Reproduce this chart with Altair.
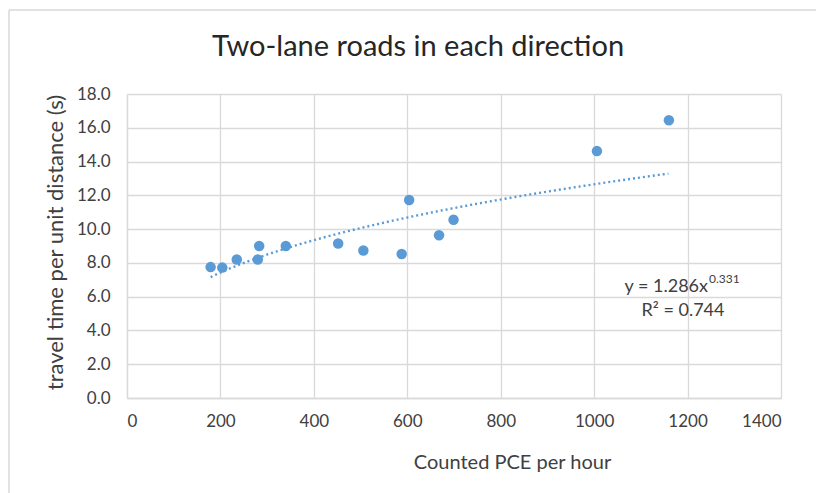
import altair as alt
import pandas as pd

# Observed travel time vs. counted PCE flow (two-lane roads in each direction)
pce_per_hour = [179, 204, 235, 280, 283, 340, 452, 506, 588, 604, 668, 699, 1006, 1160]
travel_time = [7.75, 7.72, 8.2, 8.2, 9.0, 9.0, 9.15, 8.73, 8.53, 11.72, 9.64, 10.55, 14.62, 16.45]

# Power trend line y = a * x^b
trend_a = 1.286
trend_b = 0.331
trend_x_start = 179
trend_x_end = 1160

chart_title = "Two-lane roads in each direction"
eq_main = "y = 1.286x"
eq_power = "0.331"
eq_r2 = "R² = 0.744"

FONT = "Lato"
BLUE = "#5B9BD5"
GRID = "#d9d9d9"
TEXT = "#404040"

points = pd.DataFrame({"pce": pce_per_hour, "time": travel_time})

x_scale = alt.Scale(domain=[0, 1400], nice=False)
y_scale = alt.Scale(domain=[0, 18], nice=False)

x_axis = alt.Axis(
    values=list(range(0, 1401, 200)),
    format="d",
    title="Counted PCE per hour",
    titleFont=FONT, titleFontSize=20, titleFontWeight="normal", titleColor=TEXT,
    titleX=385, titleY=64, titleAlign="center", titleBaseline="middle",
    labelFont=FONT, labelFontSize=17, labelColor=TEXT, labelPadding=15,
    labelOverlap=False, ticks=False, domainColor=GRID, domainWidth=1.5,
    grid=True, gridColor=GRID, gridWidth=1.3,
)
y_axis = alt.Axis(
    values=list(range(0, 19, 2)),
    format=".1f",
    title="travel time per unit distance (s)",
    titleFont=FONT, titleFontSize=22, titleFontWeight="normal", titleColor=TEXT,
    titleX=-72, titleY=148, titleAlign="center", titleBaseline="middle",
    labelFont=FONT, labelFontSize=17, labelColor=TEXT, labelPadding=17,
    labelOverlap=False, ticks=False, domainColor=GRID, domainWidth=1.3,
    grid=True, gridColor=GRID, gridWidth=1.3,
)

trend = (
    alt.Chart(alt.sequence(trend_x_start, trend_x_end + 1, 10, as_="pce"))
    .transform_calculate(time=f"{trend_a} * pow(datum.pce, {trend_b})")
    .mark_line(color=BLUE, strokeWidth=2.4, strokeDash=[2, 3])
    .encode(
        x=alt.X("pce:Q", scale=x_scale, axis=x_axis),
        y=alt.Y("time:Q", scale=y_scale, axis=y_axis),
    )
)

scatter = alt.Chart(points).mark_circle(size=110, color=BLUE, opacity=1).encode(
    x=alt.X("pce:Q", scale=x_scale, axis=x_axis),
    y=alt.Y("time:Q", scale=y_scale, axis=y_axis),
)

label_base = alt.Chart(pd.DataFrame({"k": [0]}))
title_mark = label_base.mark_text(font=FONT, fontSize=29, color="#262626", align="center", baseline="middle").encode(
    x=alt.value(291), y=alt.value(-47), text=alt.value(chart_title)
)
eq1 = label_base.mark_text(font=FONT, fontSize=18, color=TEXT, align="right", baseline="middle").encode(
    x=alt.value(581), y=alt.value(193), text=alt.value(eq_main)
)
eq2 = label_base.mark_text(font=FONT, fontSize=12, color=TEXT, align="left", baseline="middle").encode(
    x=alt.value(582), y=alt.value(185), text=alt.value(eq_power)
)
eq3 = label_base.mark_text(font=FONT, fontSize=18, color=TEXT, align="center", baseline="middle").encode(
    x=alt.value(556), y=alt.value(217), text=alt.value(eq_r2)
)

# Outer chart frame (top and left edges)
frame_top = label_base.mark_rule(color=GRID, strokeWidth=1.5).encode(
    x=alt.value(-118), x2=alt.value(700), y=alt.value(-84)
)
frame_left = label_base.mark_rule(color=GRID, strokeWidth=1.5).encode(
    x=alt.value(-118), y=alt.value(-84), y2=alt.value(400)
)

chart = (
    alt.layer(trend, scatter, frame_top, frame_left, title_mark, eq1, eq2, eq3)
    .properties(
        width=654,
        height=304,
        padding={"left": 127, "top": 94, "right": 35, "bottom": 95},
        autosize=alt.AutoSizeParams(type="none"),
        background="white",
    )
    .configure_view(stroke=None)
)

chart.save("out.html", embed_options={"renderer": "svg", "actions": False})
